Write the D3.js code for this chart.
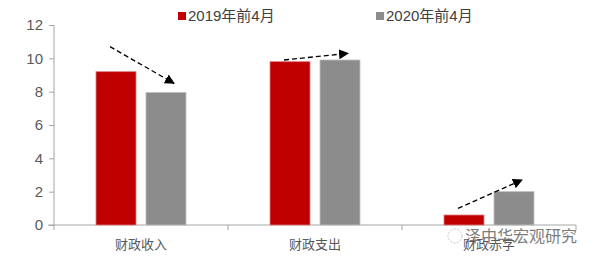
<html>
<head>
<script src="https://d3js.org/d3.v7.min.js"></script>
<style>
  body { margin: 0; background: #fff; }
  .tick text { font-family: "Liberation Sans", Arial, sans-serif; font-size: 15px; fill: #595959; }
  .cat { font-family: "Noto Sans CJK SC", sans-serif; font-size: 13px; fill: #595959; }
  .legend text { font-family: "Liberation Sans", "Noto Sans CJK SC", sans-serif; font-size: 15px; fill: #404040; }
</style>
</head>
<body>
<script>
var categories = ["财政收入", "财政支出", "财政赤字"];
var seriesNames = ["2019年前4月", "2020年前4月"];
var values2019 = [9.2, 9.8, 0.6];
var values2020 = [7.95, 9.9, 2.0];
var yTicks = [0, 2, 4, 6, 8, 10, 12];
// dashed trend arrows, start/end heights in data units
var arrowFrom = [10.7, 9.9, 1.0];
var arrowTo = [8.5, 10.3, 2.7];
var colors = ["#c00000", "#8c8c8c"];

var svg = d3.select("body").append("svg")
    .attr("width", 596)
    .attr("height", 264);

var x = d3.scaleBand().domain(categories).range([54, 576]);
var y = d3.scaleLinear().domain([0, 12]).range([225, 25]);

var barW = 40, gap = 10;
function barX(cat, i) {
    var c = x(cat) + x.bandwidth() / 2;
    return i === 0 ? c - gap / 2 - barW : c + gap / 2;
}

var yAxis = svg.append("g")
    .attr("transform", "translate(54,0)")
    .call(d3.axisLeft(y).tickValues(yTicks).tickSize(5).tickPadding(6));
yAxis.select(".domain").attr("stroke", "#a6a6a6").attr("d", "M0,25V225");
yAxis.selectAll(".tick line").attr("stroke", "#a6a6a6");

var xAxis = svg.append("g")
    .attr("transform", "translate(0,225)");
xAxis.append("line")
    .attr("x1", 48).attr("x2", 576)
    .attr("stroke", "#a6a6a6");
xAxis.selectAll(".sep")
    .data(d3.range(categories.length + 1))
    .enter().append("line")
    .attr("x1", function (d) { return 54 + d * x.step(); })
    .attr("x2", function (d) { return 54 + d * x.step(); })
    .attr("y1", 0).attr("y2", 5)
    .attr("stroke", "#a6a6a6");

var series = [values2019, values2020];
series.forEach(function (vals, i) {
    svg.selectAll(".bar" + i)
        .data(categories)
        .enter().append("rect")
        .attr("x", function (d) { return barX(d, i); })
        .attr("y", function (d, j) { return y(vals[j]); })
        .attr("width", barW)
        .attr("height", function (d, j) { return y(0) - y(vals[j]); })
        .attr("fill", colors[i])
        .attr("stroke", i === 0 ? "#e27a7a" : "#bdbdbd")
        .attr("stroke-width", 0.8);
});

svg.selectAll(".cat")
    .data(categories)
    .enter().append("text")
    .attr("class", "cat")
    .attr("x", function (d) { return x(d) + x.bandwidth() / 2; })
    .attr("y", 249)
    .attr("text-anchor", "middle")
    .text(function (d) { return d; });

// watermark
var wm = svg.append("g").attr("opacity", 0.85);
wm.append("circle").attr("cx", 455).attr("cy", 236).attr("r", 7)
    .attr("fill", "none").attr("stroke", "#bbb").attr("stroke-dasharray", "2,1.5");
wm.append("text")
    .attr("x", 465).attr("y", 242)
    .style("font-family", "Noto Sans CJK SC, sans-serif")
    .style("font-size", "16px")
    .style("fill", "#666")
    .text("泽中华宏观研究");

svg.append("defs").append("marker")
    .attr("id", "head")
    .attr("viewBox", "0 0 10 10")
    .attr("refX", 9).attr("refY", 5)
    .attr("markerWidth", 10).attr("markerHeight", 10)
    .attr("markerUnits", "userSpaceOnUse")
    .attr("orient", "auto")
    .append("path").attr("d", "M0,0L10,5L0,10Z").attr("fill", "#000");

svg.selectAll(".arrow")
    .data(categories)
    .enter().append("line")
    .attr("x1", function (d) { return barX(d, 0) + 14; })
    .attr("y1", function (d, j) { return y(arrowFrom[j]); })
    .attr("x2", function (d) { return barX(d, 1) + 28; })
    .attr("y2", function (d, j) { return y(arrowTo[j]); })
    .attr("stroke", "#000")
    .attr("stroke-width", 1.3)
    .attr("stroke-dasharray", "5,3")
    .attr("marker-end", "url(#head)");

var legend = svg.append("g").attr("class", "legend");
var lx = [178, 376];
seriesNames.forEach(function (name, i) {
    legend.append("rect")
        .attr("x", lx[i]).attr("y", 12)
        .attr("width", 8).attr("height", 8)
        .attr("fill", colors[i]);
    legend.append("text")
        .attr("x", lx[i] + 10).attr("y", 21)
        .text(name);
});
</script>
</body>
</html>
